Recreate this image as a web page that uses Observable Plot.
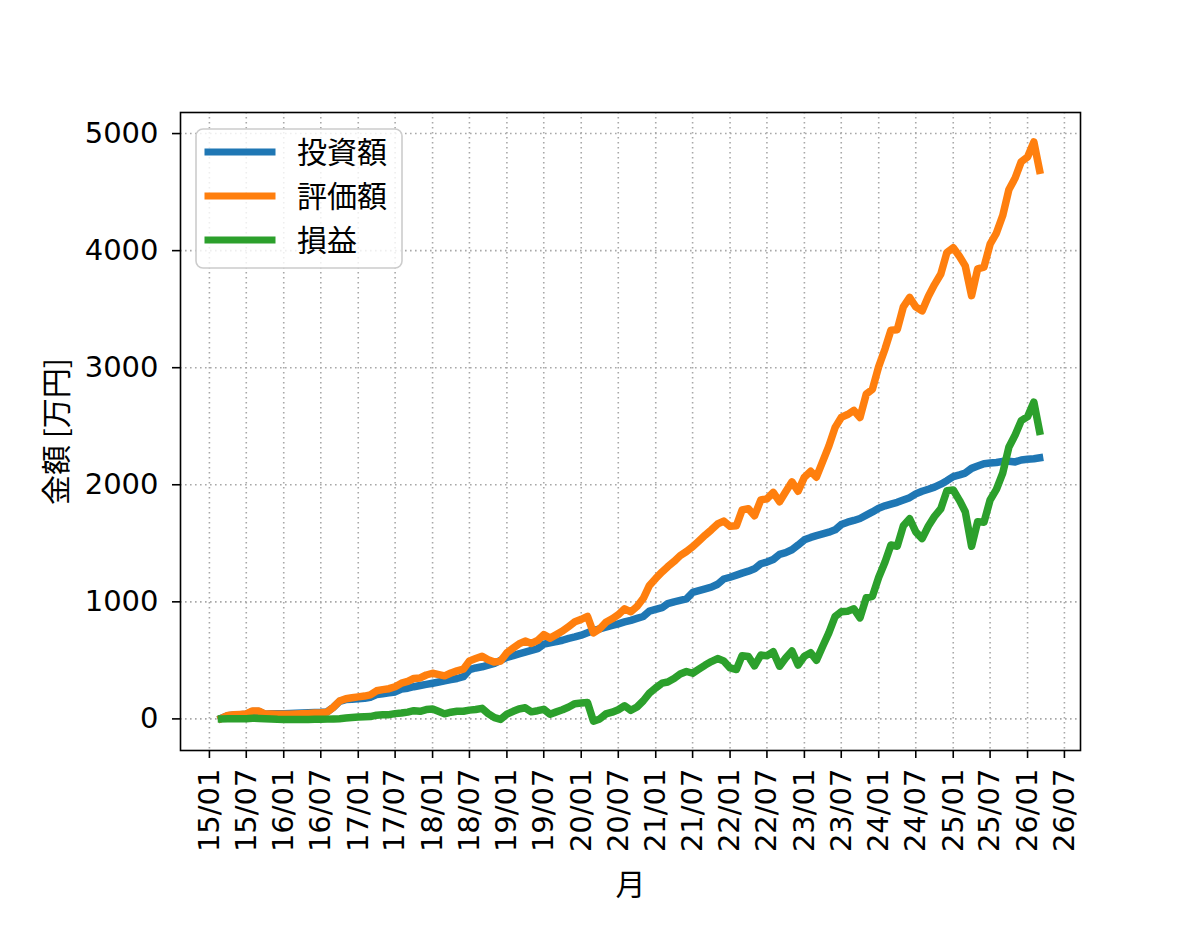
<!DOCTYPE html>
<html><head><meta charset="utf-8">
<script src="https://cdn.jsdelivr.net/npm/d3@7"></script>
<script src="https://cdn.jsdelivr.net/npm/@observablehq/plot@0.6"></script>
<style>body{margin:0;background:#fff}</style>
</head><body><div id="chart"></div>
<script>
// Monthly records from 2015/03 to 2026/03 (万円)
const startMonth = "2015-03-01";
const endMonth = "2026-03-01";

const investment = [
  5, 28, 33, 36, 40, 63, 63, 40, 43, 44,
  45, 46, 48, 50, 52, 54, 56, 60, 100, 150,
  165, 168, 172, 176, 185, 208, 215, 222, 230, 255,
  262, 275, 285, 295, 305, 315, 325, 335, 345, 360,
  420, 435, 445, 460, 475, 500, 525, 540, 555, 570,
  585, 600, 638, 650, 660, 672, 688, 700, 715, 735,
  755, 770, 783, 798, 812, 828, 842, 858, 875, 920,
  935, 950, 985, 1000, 1012, 1025, 1080, 1095, 1110, 1125,
  1150, 1195, 1210, 1228, 1245, 1262, 1282, 1325, 1340, 1362,
  1405, 1420, 1445, 1485, 1530, 1550, 1565, 1580, 1595, 1615,
  1660, 1680, 1695, 1712, 1740, 1768, 1800, 1820, 1835, 1850,
  1870, 1890, 1922, 1945, 1962, 1980, 2005, 2035, 2070, 2085,
  2100, 2140, 2160, 2180, 2185, 2190, 2200, 2200, 2195, 2212,
  2218, 2222, 2230
];

const valuation = [
  5, 30, 35, 38, 42, 68, 67, 41, 42, 40,
  40, 40, 42, 45, 47, 50, 52, 58, 100, 152,
  172, 180, 188, 195, 205, 240, 250, 258, 275, 305,
  320, 345, 350, 375, 390, 378, 368, 392, 410, 425,
  495, 515, 535, 505, 485, 495, 565, 605, 640, 665,
  645, 670, 720, 690, 720, 750, 790, 830, 850, 875,
  735, 770, 825, 855, 890, 940, 915, 960, 1030, 1140,
  1200, 1255, 1300, 1345, 1395, 1430, 1470, 1520, 1570, 1615,
  1665, 1690, 1645, 1650, 1785, 1795, 1735, 1870, 1880, 1935,
  1855, 1940, 2025, 1945, 2065, 2115, 2065, 2200, 2330, 2490,
  2575, 2600, 2635, 2575, 2775, 2815, 3010, 3160, 3320, 3325,
  3520, 3600, 3520, 3485, 3610, 3710, 3800, 3985, 4025, 3950,
  3870, 3615, 3845, 3860, 4055, 4150, 4300, 4520, 4620, 4760,
  4800, 4928, 4686
];

const profit = [
  0, 2, 2, 2, 2, 5, 4, 1, -1, -4,
  -5, -6, -6, -5, -5, -4, -4, -2, 0, 2,
  7, 12, 16, 19, 20, 32, 35, 36, 45, 50,
  58, 70, 65, 80, 85, 63, 43, 57, 65, 65,
  75, 80, 90, 45, 10, -5, 40, 65, 85, 95,
  60, 70, 82, 40, 60, 78, 102, 130, 135, 140,
  -20, 0, 42, 57, 78, 112, 73, 102, 155, 220,
  265, 305, 315, 345, 383, 405, 390, 425, 460, 490,
  515, 495, 435, 422, 540, 533, 453, 545, 540, 573,
  450, 520, 580, 460, 535, 565, 500, 620, 735, 875,
  915, 920, 940, 863, 1035, 1047, 1210, 1340, 1485, 1475,
  1650, 1710, 1598, 1540, 1648, 1730, 1795, 1950, 1955, 1865,
  1770, 1475, 1685, 1680, 1870, 1960, 2100, 2320, 2425, 2548,
  2582, 2706, 2456
];

const seriesNames = ["投資額", "評価額", "損益"];
const seriesColors = ["#1f77b4", "#ff7f0e", "#2ca02c"];
const yTicks = [0, 1000, 2000, 3000, 4000, 5000];
const xTickLabels = ["15/01","15/07","16/01","16/07","17/01","17/07","18/01","18/07",
  "19/01","19/07","20/01","20/07","21/01","21/07","22/01","22/07","23/01","23/07",
  "24/01","24/07","25/01","25/07","26/01","26/07"];
const yLabel = "金額 [万円]";
const xLabel = "月";

const months = d3.utcMonth.range(new Date(startMonth), d3.utcMonth.offset(new Date(endMonth), 1));
const rows = [];
[investment, valuation, profit].forEach((arr, i) =>
  arr.forEach((v, j) => rows.push({date: months[j], value: v, series: seriesNames[i]})));
const xTicks = xTickLabels.map(s => new Date(Date.UTC(2000 + +s.slice(0, 2), +s.slice(3) - 1, 1)));
const fmt = d => xTickLabels[xTicks.findIndex(t => +t === +d)];

const font = "'DejaVu Sans','Noto Sans CJK JP',sans-serif";
const jpFont = "'Noto Sans CJK JP','DejaVu Sans',sans-serif";
const gridStyle = {stroke: "#a8a8a8", strokeOpacity: 1, strokeWidth: 1.6, strokeDasharray: "1.6,3.4"};

const plot = Plot.plot({
  width: 1200, height: 938,
  marginLeft: 180, marginRight: 120, marginTop: 112, marginBottom: 188,
  style: {fontFamily: font, fontSize: "29px", color: "#000", background: "#fff", overflow: "visible"},
  x: {type: "utc", domain: [new Date("2014-08-12"), new Date("2026-09-18")]},
  y: {domain: [-270, 5180]},
  color: {domain: seriesNames, range: seriesColors},
  marks: [
    Plot.gridX(xTicks, gridStyle),
    Plot.gridY(yTicks, gridStyle),
    Plot.lineY(rows, {x: "date", y: "value", z: "series", stroke: "series",
      strokeWidth: 7.5, strokeLinejoin: "round", strokeLinecap: "square"}),
    Plot.frame({stroke: "#000", strokeWidth: 1.6}),
    Plot.axisY(yTicks, {tickSize: 8, tickPadding: 14, tickFormat: d => String(d), fontSize: 29,
      strokeWidth: 1.6, label: null}),
    Plot.axisY({label: yLabel, ticks: [], tickSize: 0, labelAnchor: "center", labelArrow: "none",
      labelOffset: 135, fontSize: 30, fontFamily: jpFont}),
    Plot.axisX(xTicks, {tickFormat: fmt, tickRotate: -90, tickSize: 8, tickPadding: 10, fontSize: 29,
      strokeWidth: 1.6, label: null}),
    Plot.axisX({label: xLabel, ticks: [], tickSize: 0, labelAnchor: "center", labelArrow: "none",
      labelOffset: 144, fontSize: 30, fontFamily: jpFont})
  ]
});

// legend (matplotlib-style, upper left inside the axes)
const svg = d3.select(plot);
const lg = svg.append("g").attr("font-family", jpFont).attr("font-size", 30).attr("text-anchor", "start");
lg.append("rect").attr("x", 196).attr("y", 129).attr("width", 206).attr("height", 139).attr("rx", 7)
  .attr("fill", "#fff").attr("fill-opacity", 0.8).attr("stroke", "#cccccc").attr("stroke-width", 1.6);
seriesNames.forEach((n, i) => {
  const y = 152 + i * 44;
  lg.append("line").attr("x1", 208).attr("x2", 272).attr("y1", y).attr("y2", y)
    .attr("stroke", seriesColors[i]).attr("stroke-width", 7).attr("stroke-linecap", "square");
  lg.append("text").attr("x", 297).attr("y", y).attr("dy", "0.36em").attr("fill", "#000")
    .attr("text-anchor", "start").text(n);
});

document.getElementById("chart").appendChild(plot);
</script>
</body></html>
